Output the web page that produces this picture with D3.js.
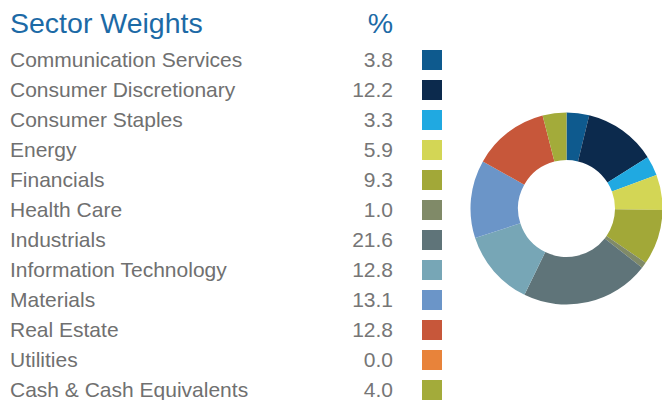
<!DOCTYPE html>
<html>
<head>
<meta charset="utf-8">
<script src="https://cdn.jsdelivr.net/npm/d3@7"></script>
<style>
  body { margin: 0; background: #fff; }
  text { font-family: "Liberation Sans", Arial, sans-serif; }
</style>
</head>
<body>
<div id="chart"></div>
<script>
// Sector data
const sectors = ["Communication Services", "Consumer Discretionary", "Consumer Staples", "Energy",
  "Financials", "Health Care", "Industrials", "Information Technology", "Materials",
  "Real Estate", "Utilities", "Cash & Cash Equivalents"];
const weights = [3.8, 12.2, 3.3, 5.9, 9.3, 1.0, 21.6, 12.8, 13.1, 12.8, 0.0, 4.0];
const colors = ["#0e5a8e", "#0c2a4d", "#20a9e1", "#d3d655", "#a2a838", "#808a68",
  "#5f7479", "#77a6b6", "#6b95c8", "#c7573a", "#e8833a", "#a3ab3a"];

const width = 662;
const height = 400;

const svg = d3.select("#chart")
    .append("svg")
    .attr("width", width)
    .attr("height", height);

// Title and % header
svg.append("text")
    .attr("x", 10)
    .attr("y", 33)
    .style("font-size", "28.5px")
    .style("fill", "#1c6aa6")
    .text("Sector Weights");

svg.append("text")
    .attr("x", 393)
    .attr("y", 33)
    .attr("text-anchor", "end")
    .style("font-size", "28.5px")
    .style("fill", "#1c6aa6")
    .text("%");

// Rows
const yScale = d3.scaleBand()
    .domain(sectors)
    .range([45, 405])
    .padding(0);

const rows = svg.selectAll(".row")
    .data(sectors)
    .enter()
    .append("g")
    .attr("class", "row")
    .attr("transform", d => `translate(0, ${yScale(d)})`);

rows.append("text")
    .attr("x", 10)
    .attr("y", 22)
    .style("font-size", "21px")
    .style("fill", "#707070")
    .text(d => d);

rows.append("text")
    .attr("x", 393)
    .attr("y", 22)
    .attr("text-anchor", "end")
    .style("font-size", "21px")
    .style("fill", "#767676")
    .text((d, i) => weights[i].toFixed(1));

rows.append("rect")
    .attr("x", 422)
    .attr("y", 5)
    .attr("width", 20)
    .attr("height", 20)
    .attr("fill", (d, i) => colors[i]);

// Donut
const pie = d3.pie()
    .sort(null)
    .value(d => d.value);

const arc = d3.arc()
    .innerRadius(48.5)
    .outerRadius(96);

const pieData = sectors.map((s, i) => ({ name: s, value: weights[i], color: colors[i] }));

svg.append("g")
    .attr("transform", "translate(566.5, 208.5)")
    .selectAll("path")
    .data(pie(pieData))
    .enter()
    .append("path")
    .attr("d", arc)
    .attr("fill", d => d.data.color);
</script>
</body>
</html>
